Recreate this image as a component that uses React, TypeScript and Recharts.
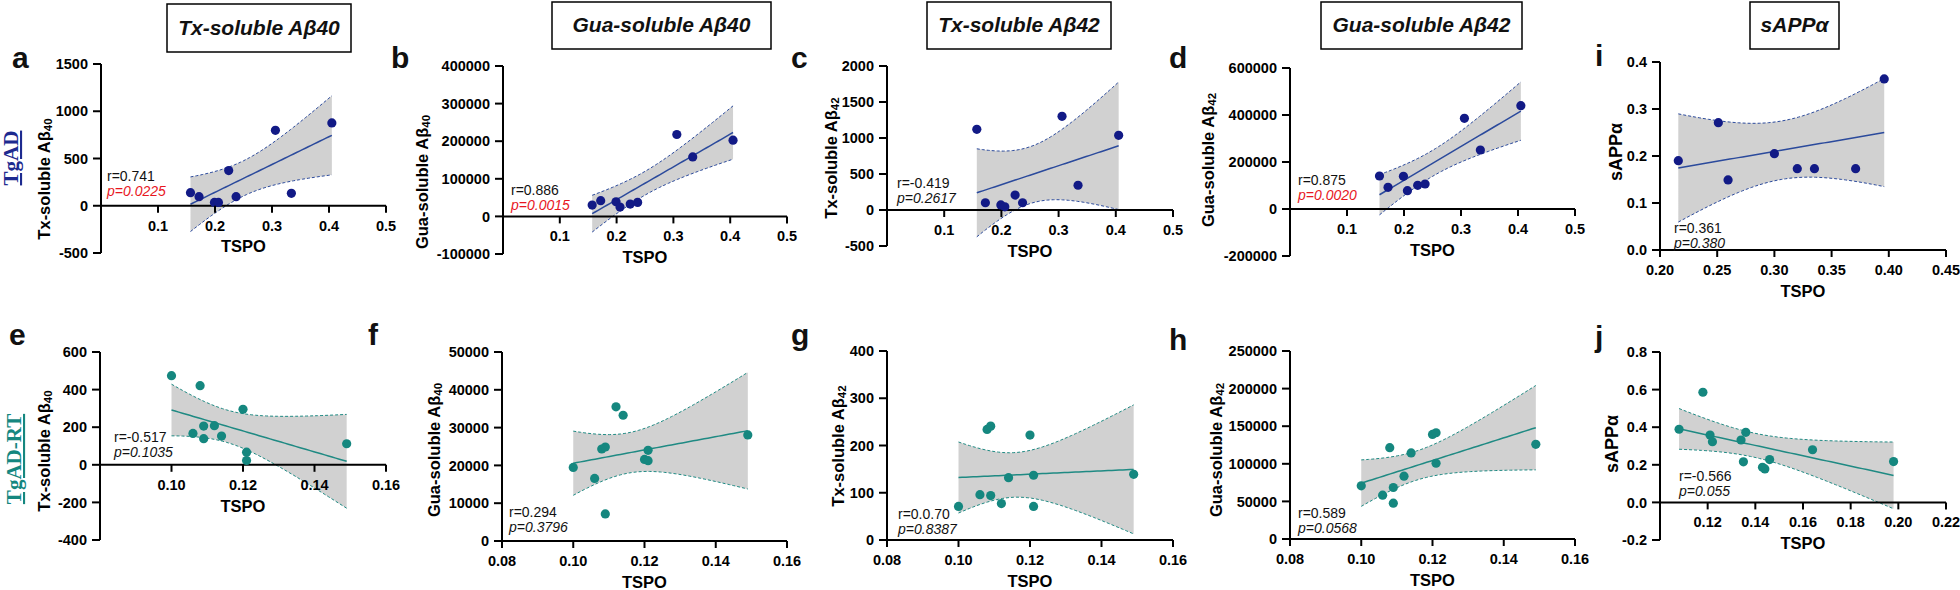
import React from "react";
import { ComposedChart, Area, Line, Scatter, XAxis, YAxis, ReferenceLine } from "recharts";

const FONT = '"Liberation Sans", Arial, Helvetica, sans-serif';
const SERIF = '"Liberation Serif", "Times New Roman", serif';
const NAVY = "#121a86";
const NAVY_LINE = "#2b4a9c";
const TEAL = "#15877f";
const TEAL_LINE = "#1f8a83";
const BAND = "#d1d1d1";
const RED = "#e8161e";

// TSPO (x) per cohort
const tspoTgAD = [0.157, 0.172, 0.199, 0.206, 0.224, 0.237, 0.306, 0.334, 0.405];
const tspoTgADsApp = [0.216, 0.251, 0.2595, 0.3, 0.32, 0.335, 0.371, 0.396];
const tspoRT = [0.1, 0.106, 0.108, 0.109, 0.109, 0.112, 0.114, 0.12, 0.121, 0.121, 0.149];
const tspoRTsApp = [0.108, 0.118, 0.121, 0.122, 0.134, 0.136, 0.135, 0.143, 0.144, 0.146, 0.164, 0.198];

// series values (y)
const txAb40TgAD = [138, 96, 35, 35, 372, 96, 798, 131, 876];
const guaAb40TgAD = [30200, 41800, 39000, 24900, 32900, 37300, 217800, 158200, 202700];
const txAb42TgAD = [1120, 101, 71, 44, 207, 101, 1301, 344, 1037];
const guaAb42TgAD = [140400, 92200, 139000, 78000, 100700, 106400, 385800, 251000, 439700];
const sAppTgAD = [0.19, 0.271, 0.149, 0.205, 0.173, 0.173, 0.173, 0.364];
const txAb40RT = [474, 167, 421, 206, 139, 208, 153, 295, 67, 23, 112];
const guaAb40RT = [19470, 16550, 24340, 24870, 7170, 35490, 33270, 21590, 23980, 21240, 28050];
const txAb42RT = [71, 96, 234, 241, 94, 77, 132, 222, 137, 71, 139];
const guaAb42RT = [70670, 58300, 121500, 68460, 47700, 83500, 114400, 139100, 141300, 100700, 125900];
const sAppRT = [0.389, 0.586, 0.358, 0.323, 0.332, 0.373, 0.216, 0.187, 0.178, 0.228, 0.28, 0.217];

// ticks
const xTicksTop = [0.1, 0.2, 0.3, 0.4, 0.5];
const xTicksI = [0.2, 0.25, 0.3, 0.35, 0.4, 0.45];
const xTicksBottom = [0.08, 0.1, 0.12, 0.14, 0.16];
const xTicksE = [0.1, 0.12, 0.14, 0.16];
const xTicksJ = [0.12, 0.14, 0.16, 0.18, 0.2, 0.22];
const yTicksA = [-500, 0, 500, 1000, 1500];
const yTicksB = [-100000, 0, 100000, 200000, 300000, 400000];
const yTicksC = [-500, 0, 500, 1000, 1500, 2000];
const yTicksD = [-200000, 0, 200000, 400000, 600000];
const yTicksI = [0, 0.1, 0.2, 0.3, 0.4];
const yTicksE = [-400, -200, 0, 200, 400, 600];
const yTicksF = [0, 10000, 20000, 30000, 40000, 50000];
const yTicksG = [0, 100, 200, 300, 400];
const yTicksH = [0, 50000, 100000, 150000, 200000, 250000];
const yTicksJ = [-0.2, 0, 0.2, 0.4, 0.6, 0.8];

// two-sided 95% t quantiles
const T975: Record<number, number> = { 6: 2.447, 7: 2.365, 9: 2.262, 10: 2.228 };

function regression(xs: number[], ys: number[], steps = 48) {
  const n = xs.length;
  const mx = xs.reduce((s, v) => s + v, 0) / n;
  const my = ys.reduce((s, v) => s + v, 0) / n;
  let sxx = 0;
  let sxy = 0;
  xs.forEach((x, i) => {
    sxx += (x - mx) * (x - mx);
    sxy += (x - mx) * (ys[i] - my);
  });
  const b = sxy / sxx;
  const a = my - b * mx;
  let sse = 0;
  xs.forEach((x, i) => {
    const r = ys[i] - (a + b * x);
    sse += r * r;
  });
  const s = Math.sqrt(sse / (n - 2));
  const t = T975[n - 2];
  const x0 = Math.min(...xs);
  const x1 = Math.max(...xs);
  const out = [];
  for (let k = 0; k <= steps; k++) {
    const x = x0 + ((x1 - x0) * k) / steps;
    const fit = a + b * x;
    const h = t * s * Math.sqrt(1 / n + ((x - mx) * (x - mx)) / sxx);
    out.push({ x, fit, lo: fit - h, hi: fit + h, band: [fit - h, fit + h] });
  }
  return out;
}

type P = {
  id: string;
  xs: number[];
  ys: number[];
  xDomain: [number, number];
  xTicks: number[];
  xDigits: number;
  yDomain: [number, number];
  yTicks: number[];
  yDigits: number;
  left: number;
  top: number;
  width: number;
  height: number;
  dot: string;
  line: string;
};

const panels: P[] = [
  { id: "a", xs: tspoTgAD, ys: txAb40TgAD, xDomain: [0, 0.5], xTicks: xTicksTop, xDigits: 1, yDomain: [-500, 1500], yTicks: yTicksA, yDigits: 0, left: 101, top: 64, width: 285, height: 189, dot: NAVY, line: NAVY_LINE },
  { id: "b", xs: tspoTgAD, ys: guaAb40TgAD, xDomain: [0, 0.5], xTicks: xTicksTop, xDigits: 1, yDomain: [-100000, 400000], yTicks: yTicksB, yDigits: 0, left: 503, top: 66, width: 284, height: 188, dot: NAVY, line: NAVY_LINE },
  { id: "c", xs: tspoTgAD, ys: txAb42TgAD, xDomain: [0, 0.5], xTicks: xTicksTop, xDigits: 1, yDomain: [-500, 2000], yTicks: yTicksC, yDigits: 0, left: 887, top: 66, width: 286, height: 180, dot: NAVY, line: NAVY_LINE },
  { id: "d", xs: tspoTgAD, ys: guaAb42TgAD, xDomain: [0, 0.5], xTicks: xTicksTop, xDigits: 1, yDomain: [-200000, 600000], yTicks: yTicksD, yDigits: 0, left: 1290, top: 68, width: 285, height: 188, dot: NAVY, line: NAVY_LINE },
  { id: "i", xs: tspoTgADsApp, ys: sAppTgAD, xDomain: [0.2, 0.45], xTicks: xTicksI, xDigits: 2, yDomain: [0, 0.4], yTicks: yTicksI, yDigits: 1, left: 1660, top: 62, width: 286, height: 188, dot: NAVY, line: NAVY_LINE },
  { id: "e", xs: tspoRT, ys: txAb40RT, xDomain: [0.08, 0.16], xTicks: xTicksE, xDigits: 2, yDomain: [-400, 600], yTicks: yTicksE, yDigits: 0, left: 100, top: 352, width: 286, height: 188, dot: TEAL, line: TEAL_LINE },
  { id: "f", xs: tspoRT, ys: guaAb40RT, xDomain: [0.08, 0.16], xTicks: xTicksBottom, xDigits: 2, yDomain: [0, 50000], yTicks: yTicksF, yDigits: 0, left: 502, top: 352, width: 285, height: 189, dot: TEAL, line: TEAL_LINE },
  { id: "g", xs: tspoRT, ys: txAb42RT, xDomain: [0.08, 0.16], xTicks: xTicksBottom, xDigits: 2, yDomain: [0, 400], yTicks: yTicksG, yDigits: 0, left: 887, top: 351, width: 286, height: 189, dot: TEAL, line: TEAL_LINE },
  { id: "h", xs: tspoRT, ys: guaAb42RT, xDomain: [0.08, 0.16], xTicks: xTicksBottom, xDigits: 2, yDomain: [0, 250000], yTicks: yTicksH, yDigits: 0, left: 1290, top: 351, width: 285, height: 188, dot: TEAL, line: TEAL_LINE },
  { id: "j", xs: tspoRTsApp, ys: sAppRT, xDomain: [0.1, 0.22], xTicks: xTicksJ, xDigits: 2, yDomain: [-0.2, 0.8], yTicks: yTicksJ, yDigits: 1, left: 1660, top: 352, width: 286, height: 188, dot: TEAL, line: TEAL_LINE },
];

const L = 80;
const T = 12;
const R = 24;
const B = 56;
const TICK_FS = 14.5;

function XTick(props: any) {
  const { x, payload, zeroY, digits } = props;
  return (
    <g>
      <line x1={x} x2={x} y1={zeroY} y2={zeroY + 7} stroke="#000" strokeWidth={2} />
      <text x={x} y={zeroY + 25} textAnchor="middle" fontSize={TICK_FS} fontWeight={700} fontFamily={FONT} fill="#000">
        {Number(payload.value).toFixed(digits)}
      </text>
    </g>
  );
}

function RegPanel({ p }: { p: P }) {
  const fitData = regression(p.xs, p.ys);
  const pts = p.xs.map((x, i) => ({ x, y: p.ys[i] }));
  const [y0, y1] = p.yDomain;
  const zeroY = T + (p.height * (y1 - 0)) / (y1 - y0);
  return (
    <div style={{ position: "absolute", left: p.left - L, top: p.top - T }}>
      <ComposedChart
        width={p.width + L + R}
        height={p.height + T + B}
        margin={{ top: T, right: R, bottom: 0, left: 0 }}
      >
        <XAxis
          type="number"
          dataKey="x"
          domain={p.xDomain}
          ticks={p.xTicks}
          interval={0}
          allowDataOverflow
          height={B}
          axisLine={false}
          tickLine={false}
          tickSize={0}
          tick={(tp: any) => <XTick {...tp} zeroY={zeroY} digits={p.xDigits} />}
        />
        <YAxis
          type="number"
          domain={p.yDomain}
          ticks={p.yTicks}
          interval={0}
          width={L}
          allowDataOverflow
          axisLine={{ stroke: "#000", strokeWidth: 2 }}
          tickLine={{ stroke: "#000", strokeWidth: 2 }}
          tickSize={8}
          tickMargin={5}
          tick={{ fill: "#000", fontSize: TICK_FS, fontWeight: 700, fontFamily: FONT }}
          tickFormatter={(v: number) => v.toFixed(p.yDigits)}
        />
        <Area data={fitData} dataKey="band" stroke="none" fill={BAND} fillOpacity={1} isAnimationActive={false} />
        <Line data={fitData} dataKey="hi" stroke={p.line} strokeWidth={1} strokeDasharray="3 2" dot={false} isAnimationActive={false} />
        <Line data={fitData} dataKey="lo" stroke={p.line} strokeWidth={1} strokeDasharray="3 2" dot={false} isAnimationActive={false} />
        <Line data={fitData} dataKey="fit" stroke={p.line} strokeWidth={1.5} dot={false} isAnimationActive={false} />
        <ReferenceLine
          y={0}
          stroke="#000"
          strokeWidth={2}
          label={{ value: "TSPO", position: "bottom", offset: 35, fill: "#000", fontSize: 16.5, fontWeight: 700, fontFamily: FONT }}
        />
        <Scatter
          data={pts}
          dataKey="y"
          fill={p.dot}
          isAnimationActive={false}
          shape={(sp: any) => <circle cx={sp.cx} cy={sp.cy} r={4.6} fill={p.dot} />}
        />
      </ComposedChart>
    </div>
  );
}

const titles = [
  { x1: 167, x2: 351, y1: 4, y2: 52, base: 35, text: "Tx-soluble A", tail: "β40" },
  { x1: 552, x2: 771, y1: 2, y2: 49, base: 32, text: "Gua-soluble A", tail: "β40" },
  { x1: 927, x2: 1111, y1: 2, y2: 49, base: 32, text: "Tx-soluble A", tail: "β42" },
  { x1: 1321, x2: 1522, y1: 2, y2: 49, base: 32, text: "Gua-soluble A", tail: "β42" },
  { x1: 1750, x2: 1839, y1: 2, y2: 49, base: 32, text: "sAPP", tail: "α" },
];

const letters = [
  { t: "a", x: 12, y: 68 },
  { t: "b", x: 391, y: 68 },
  { t: "c", x: 791, y: 68 },
  { t: "d", x: 1169, y: 68 },
  { t: "i", x: 1595, y: 66 },
  { t: "e", x: 9, y: 345 },
  { t: "f", x: 368, y: 345 },
  { t: "g", x: 791, y: 345 },
  { t: "h", x: 1169, y: 350 },
  { t: "j", x: 1595, y: 347 },
];

const yLabels = [
  { x: 44, y: 179, main: "Tx-soluble Aβ", sub: "40", size: 16.5 },
  { x: 422, y: 182, main: "Gua-soluble Aβ", sub: "40", size: 16.5 },
  { x: 831, y: 158, main: "Tx-soluble Aβ", sub: "42", size: 16.5 },
  { x: 1208, y: 160, main: "Gua-soluble Aβ", sub: "42", size: 16.5 },
  { x: 1616, y: 152, main: "sAPPα", sub: "", size: 18 },
  { x: 44, y: 451, main: "Tx-soluble Aβ", sub: "40", size: 16.5 },
  { x: 434, y: 450, main: "Gua-soluble Aβ", sub: "40", size: 16.5 },
  { x: 838, y: 446, main: "Tx-soluble Aβ", sub: "42", size: 16.5 },
  { x: 1216, y: 450, main: "Gua-soluble Aβ", sub: "42", size: 16.5 },
  { x: 1612, y: 444, main: "sAPPα", sub: "", size: 18 },
];

const stats = [
  { x: 107, y: 176, r: "r=0.741", p: "p=0.0225", sig: true },
  { x: 511, y: 190, r: "r=0.886", p: "p=0.0015", sig: true },
  { x: 897, y: 183, r: "r=-0.419", p: "p=0.2617", sig: false },
  { x: 1298, y: 180, r: "r=0.875", p: "p=0.0020", sig: true },
  { x: 1674, y: 228, r: "r=0.361", p: "p=0.380", sig: false },
  { x: 114, y: 437, r: "r=-0.517", p: "p=0.1035", sig: false },
  { x: 509, y: 512, r: "r=0.294", p: "p=0.3796", sig: false },
  { x: 898, y: 514, r: "r=0.0.70", p: "p=0.8387", sig: false },
  { x: 1298, y: 513, r: "r=0.589", p: "p=0.0568", sig: false },
  { x: 1679, y: 476, r: "r=-0.566", p: "p=0.055", sig: false },
];

export default function App() {
  return (
    <div style={{ position: "absolute", left: 0, top: 0, width: 1960, height: 590, background: "#fff", fontFamily: FONT, overflow: "hidden" }}>
      {panels.map((p) => (
        <RegPanel key={p.id} p={p} />
      ))}
      <svg width={1960} height={590} style={{ position: "absolute", left: 0, top: 0, pointerEvents: "none" }}>
        {titles.map((t, i) => (
          <g key={i}>
            <rect x={t.x1} y={t.y1} width={t.x2 - t.x1} height={t.y2 - t.y1} fill="#fff" stroke="#000" strokeWidth={1.5} />
            <text x={(t.x1 + t.x2) / 2} y={t.base} textAnchor="middle" fontSize={21} fontWeight={700} fontStyle="italic" fontFamily={FONT} fill="#111">
              {t.text}
              <tspan>{t.tail}</tspan>
            </text>
          </g>
        ))}
        {letters.map((l) => (
          <text key={l.t} x={l.x} y={l.y} fontSize={30} fontWeight={700} fontFamily={FONT} fill="#111">
            {l.t}
          </text>
        ))}
        <text x={18} y={158} transform="rotate(-90 18 158)" textAnchor="middle" fontSize={21} fontWeight={700} fontFamily={SERIF} fill="#1d2a8f" textDecoration="underline">
          TgAD
        </text>
        <text x={21} y={459} transform="rotate(-90 21 459)" textAnchor="middle" fontSize={21} fontWeight={700} fontFamily={SERIF} fill={TEAL} textDecoration="underline">
          TgAD-RT
        </text>
        {yLabels.map((l, i) => (
          <text key={i} x={l.x} y={l.y} transform={`rotate(-90 ${l.x} ${l.y})`} textAnchor="middle" dominantBaseline="central" fontSize={l.size} fontWeight={700} fontFamily={FONT} fill="#000">
            {l.main}
            {l.sub ? (
              <tspan dy={4} fontSize={11.5}>
                {l.sub}
              </tspan>
            ) : null}
          </text>
        ))}
        {stats.map((s, i) => (
          <g key={i}>
            <text x={s.x} y={s.y + 5} fontSize={14} fontFamily={FONT} fill="#111">
              {s.r}
            </text>
            <text x={s.x} y={s.y + 20} fontSize={14} fontStyle="italic" fontFamily={FONT} fill={s.sig ? RED : "#111"}>
              {s.p}
            </text>
          </g>
        ))}
      </svg>
    </div>
  );
}
